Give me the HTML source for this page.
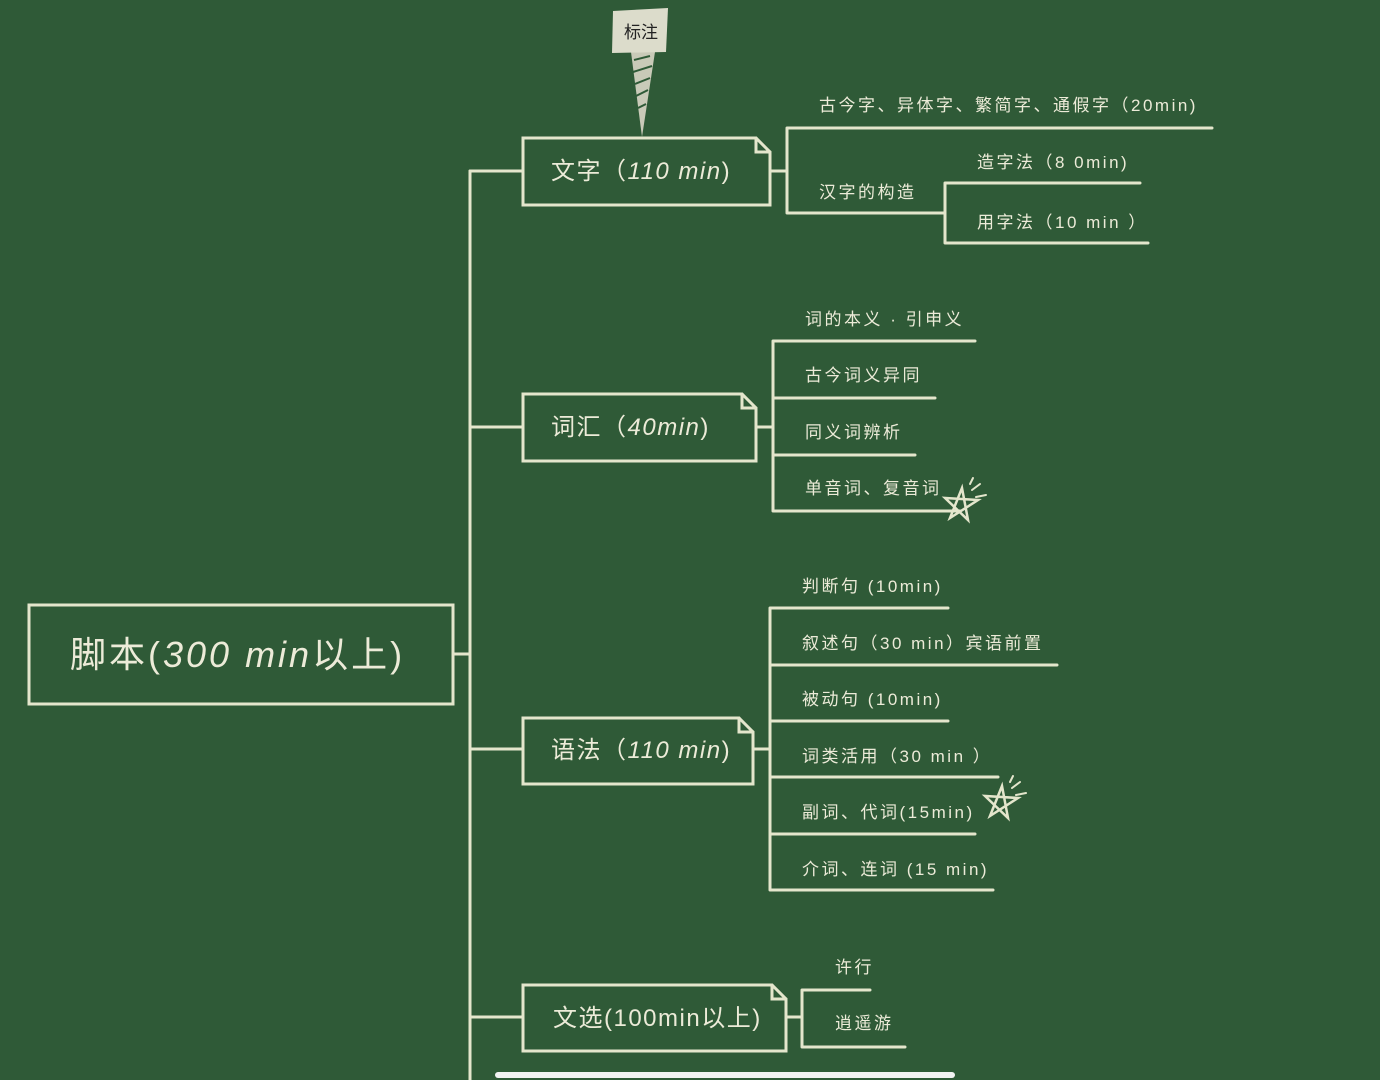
<!DOCTYPE html>
<html><head><meta charset="utf-8"><style>
html,body{margin:0;padding:0;background:#2f5a37;}
svg{display:block}
text{font-family:"Liberation Sans","Noto Sans CJK SC",sans-serif;fill:#ecebd8;}
</style></head><body>
<svg width="1380" height="1080" viewBox="0 0 1380 1080">
<rect width="1380" height="1080" fill="#2f5a37"/>
<g stroke="#e4e6cc" stroke-width="3" fill="none" stroke-linecap="round">
<path d="M470 171 V1080"/>
<path d="M453 654 H470"/>
<rect x="29" y="605" width="424" height="99"/>
<path d="M470 171 H523"/>
<path d="M523 138 H756 L770 152 V205 H523 Z"/>
<path d="M756 138 V152 H770"/>
<path d="M770 171 H787 M787 128 V213 M787 128 H1212 M787 213 H945 M945 183 V243 M945 183 H1140 M945 243 H1148"/>
<path d="M470 427 H523"/>
<path d="M523 394 H742 L756 408 V461 H523 Z"/>
<path d="M742 394 V408 H756"/>
<path d="M756 427 H773 M773 341 V511 M773 341 H975 M773 398 H935 M773 455 H915 M773 511 H960"/>
<path d="M470 749 H523"/>
<path d="M523 718 H739 L753 732 V784 H523 Z"/>
<path d="M739 718 V732 H753"/>
<path d="M753 749 H770 M770 608 V890 M770 608 H948 M770 665 H1057 M770 721 H948 M770 777 H998 M770 834 H975 M770 890 H993"/>
<path d="M470 1017 H523"/>
<path d="M523 985 H772 L786 999 V1051 H523 Z"/>
<path d="M772 985 V999 H786"/>
<path d="M786 1017 H802 M802 990 V1047 M802 990 H870 M802 1047 H905"/>
<path d="M962 488 L968 520 L945 498 L978 500 L950 518 Z" stroke-width="2.5"/>
<path d="M972 490 L980 484 M976 497 L986 495 M970 484 L973 478" stroke-width="2"/>
<path d="M1002 786 L1008 818 L985 796 L1018 798 L990 816 Z" stroke-width="2.5"/>
<path d="M1012 788 L1020 782 M1016 795 L1026 793 M1010 782 L1013 776" stroke-width="2"/>
</g>
<polygon points="631,52 655,52 642,137" fill="#c9cab8"/>
<path d="M634 60 L650 56 M633 72 L652 66 M635 84 L650 78 M636 96 L648 90 M638 108 L646 104" stroke="#2f5a37" stroke-width="2"/>
<polygon points="613,11 668,8 666,52 612,53" fill="#dcdccb"/>
<text x="641" y="38" font-size="17" text-anchor="middle" style="fill:#222">标注</text>
<text x="70" y="667" font-size="36" letter-spacing="3">脚本(<tspan font-style="italic">300 min</tspan>以上)</text>
<g font-size="24" letter-spacing="1.5">
<text x="551" y="179">文字（<tspan font-style="italic">110 min</tspan>)</text>
<text x="551" y="435">词汇（<tspan font-style="italic">40min</tspan>)</text>
<text x="551" y="758">语法（<tspan font-style="italic">110 min</tspan>)</text>
<text x="553" y="1026">文选(100min以上)</text>
</g>
<g font-size="17" letter-spacing="2.5">
<text x="819" y="111">古今字、异体字、繁简字、通假字（20min)</text>
<text x="977" y="168">造字法（8 0min)</text>
<text x="819" y="198">汉字的构造</text>
<text x="977" y="228">用字法（10 min ）</text>
<text x="805" y="325">词的本义 · 引申义</text>
<text x="805" y="381">古今词义异同</text>
<text x="805" y="438">同义词辨析</text>
<text x="805" y="494">单音词、复音词</text>
<text x="802" y="592">判断句 (10min)</text>
<text x="802" y="649">叙述句（30 min）宾语前置</text>
<text x="802" y="705">被动句 (10min)</text>
<text x="802" y="762">词类活用（30 min ）</text>
<text x="802" y="818">副词、代词(15min)</text>
<text x="802" y="875">介词、连词 (15 min)</text>
<text x="835" y="973">许行</text>
<text x="835" y="1029">逍遥游</text>
</g>
<rect x="495" y="1072" width="460" height="6" rx="3" fill="#f2f2f2"/>
</svg>
</body></html>
